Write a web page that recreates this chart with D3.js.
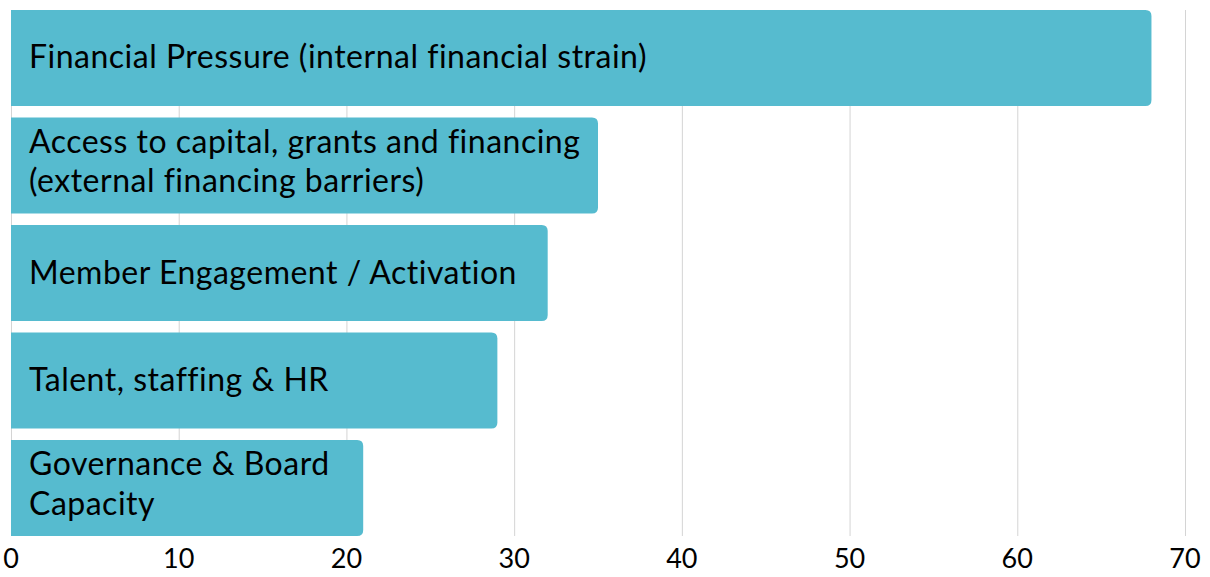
<!DOCTYPE html>
<html>
<head>
<meta charset="utf-8">
<script src="https://cdn.jsdelivr.net/npm/d3@7"></script>
<style>
  html, body { margin: 0; padding: 0; background: #fff; }
  svg { display: block; font-family: Lato, "Noto Sans", sans-serif; }
</style>
</head>
<body>
<svg id="chart" width="1210" height="577"></svg>
<script>
// categories (line breaks as in the original labels)
const categories = [
  'Financial Pressure (internal financial strain)',
  'Access to capital, grants and financing\n(external financing barriers)',
  'Member Engagement / Activation',
  'Talent, staffing & HR',
  'Governance & Board\nCapacity'
];
const values = [68, 35, 32, 29, 21];
const xTicks = [0, 10, 20, 30, 40, 50, 60, 70];

const svg = d3.select('#chart');
const barColor = '#56bbcf';

const x = d3.scaleLinear().domain([0, 70]).range([11, 1185]);
const y = d3.scaleBand()
  .domain(categories)
  .range([10, 536])
  .paddingInner(0.107)
  .paddingOuter(0);

// Gridlines
svg.append('g')
  .selectAll('line')
  .data(xTicks)
  .join('line')
  .attr('x1', d => x(d) + 0.5)
  .attr('x2', d => x(d) + 0.5)
  .attr('y1', 10)
  .attr('y2', 536)
  .attr('stroke', '#d4d4d4')
  .attr('stroke-width', 1);

// Bars with rounded right end
const r = 6;
const barPath = (x0, x1, y0, h) => {
  const rr = Math.min(r, (x1 - x0) / 2);
  return `M${x0},${y0}H${x1 - rr}Q${x1},${y0} ${x1},${y0 + rr}` +
         `V${y0 + h - rr}Q${x1},${y0 + h} ${x1 - rr},${y0 + h}H${x0}Z`;
};

const bars = svg.append('g')
  .selectAll('g')
  .data(categories.map((c, i) => ({ name: c, value: values[i] })))
  .join('g');

bars.append('path')
  .attr('d', d => barPath(x(0), x(d.value), y(d.name), y.bandwidth()))
  .attr('fill', barColor);

// Labels inside bars
const fontSize = 32;
const lineH = 39.5;
bars.each(function (d) {
  const lines = d.name.split('\n');
  const n = lines.length;
  const cy = y(d.name) + y.bandwidth() / 2 + 10.5 - 3.5 * (n - 1);
  const t = d3.select(this).append('text')
    .attr('x', 29)
    .attr('font-size', fontSize)
    .attr('letter-spacing', 0.5)
    .attr('fill', '#000');
  lines.forEach((ln, i) => {
    t.append('tspan')
      .attr('x', 29)
      .attr('y', cy + (i - (n - 1) / 2) * lineH)
      .text(ln);
  });
});

// X axis labels
svg.append('g')
  .selectAll('text')
  .data(xTicks)
  .join('text')
  .attr('x', d => x(d))
  .attr('y', 568)
  .attr('text-anchor', 'middle')
  .attr('font-size', 27)
  .attr('fill', '#000')
  .text(d => d);
</script>
</body>
</html>
